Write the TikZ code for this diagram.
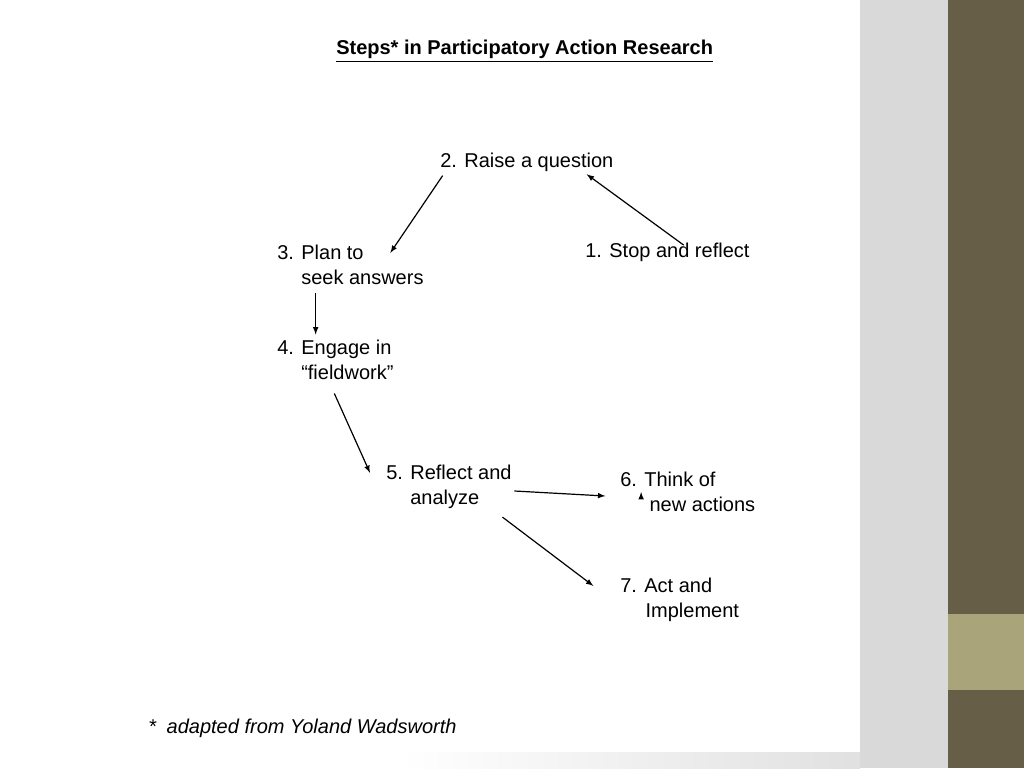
\documentclass[tikz,border=0pt]{standalone}
\usepackage{fontspec}
\setmainfont{Liberation Sans}
\begin{document}
\begin{tikzpicture}[x=0.75pt,y=-0.75pt,
  lbl/.style={anchor=west,inner sep=0pt,align=left,font=\fontsize{15}{18.8}\selectfont},
  arr/.style={-latex,line width=0.9pt}]
\useasboundingbox (0,0) rectangle (1024,768);
\fill[white] (0,0) rectangle (860,768);
\fill[black!15] (860,0) rectangle (948,768);
\fill[left color=white,right color=black!12] (400,752) rectangle (860,768);
\fill[black!15] (860,752) rectangle (948,768);
\fill[black!60!yellow!45!brown] (948,0) rectangle (1024,768);
\fill[fill={rgb,255:red,103;green,94;blue,72}] (948,0) rectangle (1024,768);
\fill[fill={rgb,255:red,169;green,164;blue,122}] (948,614) rectangle (1024,690);
\node[lbl,font=\bfseries\fontsize{15}{18}\selectfont] (t) at (336,51) {\underline{Steps* in Participatory Action Research}};
\node[lbl] (n2) at (440,162) {2. Raise a question};
\node[lbl] (n1) at (585,252) {1. Stop and reflect};
\node[lbl] (n3) at (277,265) {3. Plan to\\\hspace*{18pt}seek answers};
\node[lbl] (n4) at (277,360) {4. Engage in\\\hspace*{18pt}“fieldwork”};
\node[lbl] (n5) at (386,487) {5. Reflect and\\\hspace*{18pt}analyze};
\node[lbl] (n6) at (620,492) {6. Think of\\\hspace*{22pt}new actions};
\node[lbl] (n7) at (620,600) {7. Act and\\\hspace*{19pt}Implement};
\node[lbl,font=\itshape\fontsize{15}{18}\selectfont] (fn) at (148,728) {*\hspace{8pt}adapted from Yoland Wadsworth};
\draw[arr] ([xshift=74pt,yshift=-2pt]n1.north west) -- ([xshift=110pt,yshift=-2pt]n2.south west);
\draw[arr] ([xshift=2pt,yshift=-3pt]n2.south west) -- ([xshift=85pt,yshift=-6pt]n3.north west);
\draw[arr] ([xshift=29pt,yshift=-6pt]n3.south west) -- ([xshift=29pt,yshift=4pt]n4.north west);
\draw[arr] ([xshift=43pt,yshift=-10pt]n4.south west) -- ([xshift=-12pt,yshift=-6pt]n5.north west);
\draw[arr] ([xshift=97pt]n5.east |- n6.west) ++(0,0) coordinate (a5);
\draw[arr] ([xshift=2pt,yshift=-3pt]n5.east) -- ([xshift=-11pt,yshift=-3pt]n6.west);
\draw[arr] ([xshift=-7pt,yshift=-6pt]n5.south east) -- ([xshift=-20pt,yshift=-6pt]n7.north west);
\end{tikzpicture}
\end{document}
